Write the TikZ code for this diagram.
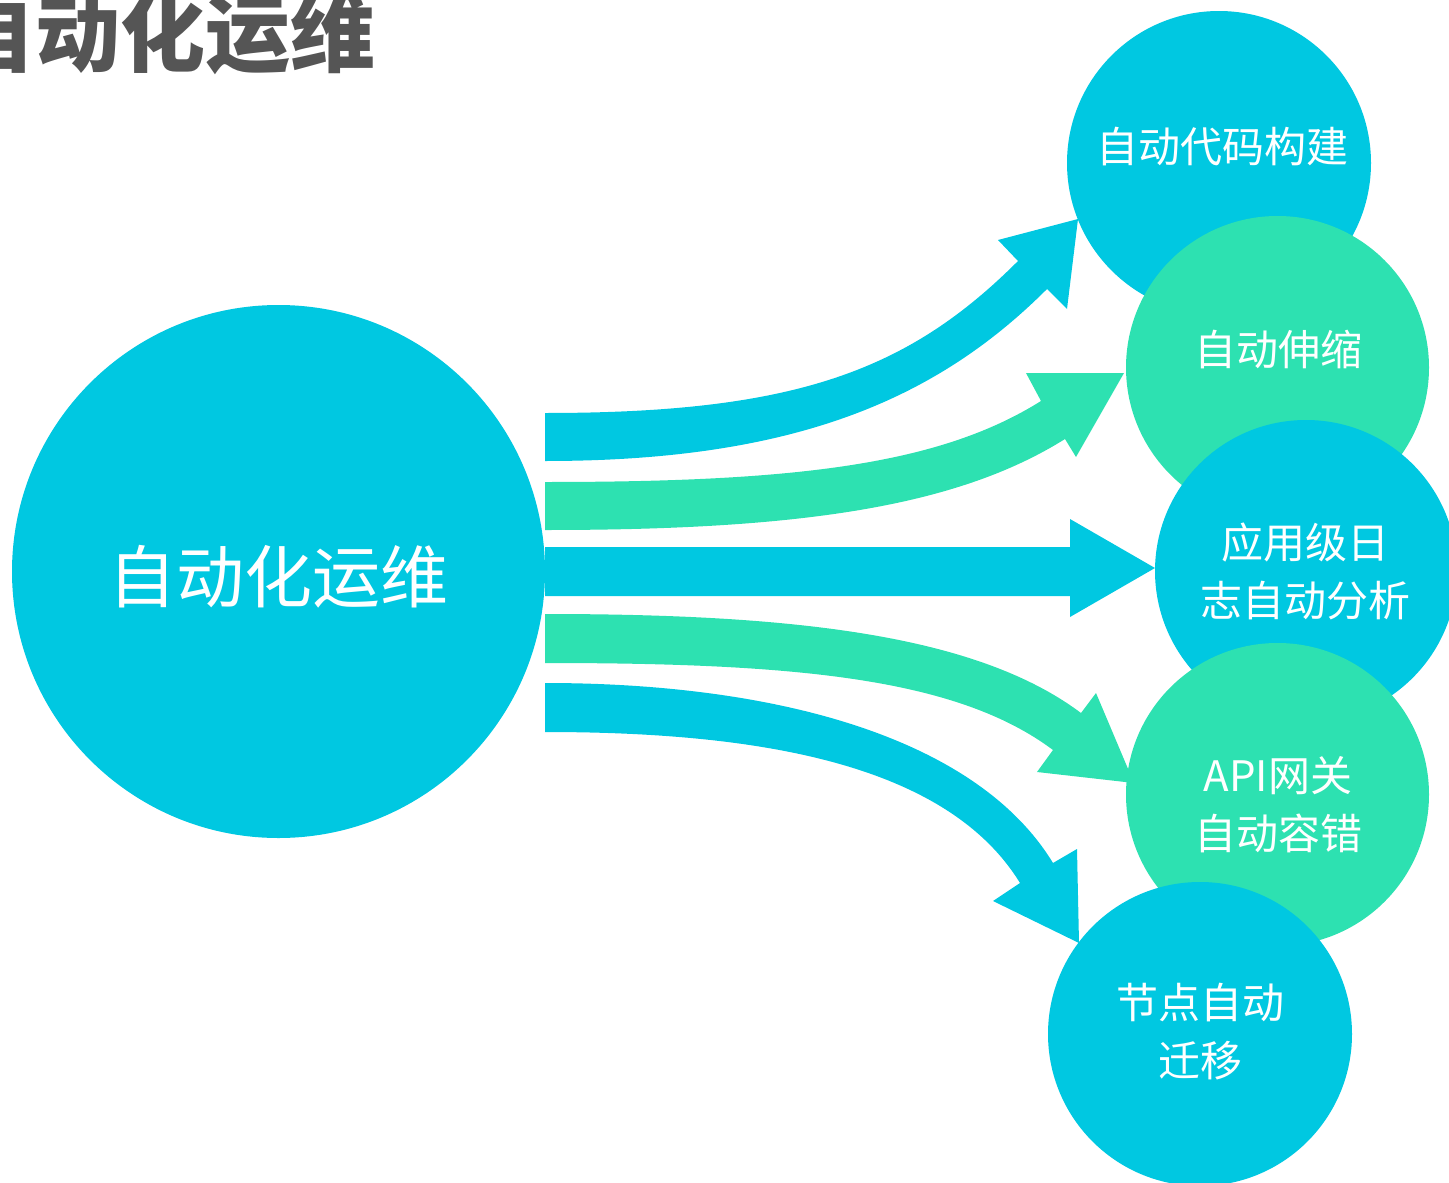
\documentclass[tikz,border=0pt]{standalone}
\usepackage{fontspec}
\setmainfont{Noto Sans CJK SC}
\definecolor{cy}{RGB}{0,200,225}
\definecolor{gr}{RGB}{45,225,177}
\definecolor{tg}{RGB}{85,85,85}
\begin{document}
\begin{tikzpicture}[x=1pt,y=-1pt,
  ball/.style={circle,inner sep=0pt,draw=none},
  lbl/.style={text=white,align=center,inner sep=0pt,font=\fontsize{42}{58}\selectfont},
  arrowband/.style={draw=none}]
\clip (0,0) rectangle (1449,1183);
% title
\node[anchor=base east,inner sep=0pt,text=tg,font=\fontsize{85}{85}\selectfont\bfseries] (title) at (376,65) {自动化运维};
% big circle
\node[ball,fill=cy,minimum size=533pt] (hub) at (278.5,571.5) {};
\node[text=white,inner sep=0pt,font=\fontsize{68}{68}\selectfont] (hubtxt) at (278.5,577) {自动化运维};
% arrows
\fill[cy,arrowband] (545,413) .. controls (795,413) and (908,371) .. (1018,261) -- (998,240) -- (1078,219) -- (1067,309) -- (1047,289) .. controls (937,399) and (795,461) .. (545,461) -- cycle;
\fill[gr,arrowband] (545,482) .. controls (795,482) and (939,465) .. (1041,401) -- (1026,373) -- (1124,373) -- (1076,457) -- (1065,439) .. controls (955,508) and (795,530) .. (545,530) -- cycle;
\fill[cy,arrowband] (545,547) -- (1070,547) -- (1070,519) -- (1155,568) -- (1070,617) -- (1070,596) -- (545,596) -- cycle;
\fill[gr,arrowband] (545,614) .. controls (795,614) and (977,635) .. (1081,713) -- (1096,693) -- (1134,783) -- (1037,772) -- (1053,750) .. controls (957,678) and (795,663) .. (545,663) -- cycle;
\fill[cy,arrowband] (545,683) .. controls (770,683) and (975,735) .. (1053,863) -- (1077,849) -- (1079,943) -- (993,901) -- (1020,883) .. controls (947,764) and (760,732) .. (545,732) -- cycle;
% right circles
\node[ball,fill=cy,minimum size=304pt] (c1) at (1219,163) {};
\node[lbl] (t1) at (1222,147) {自动代码构建};
\node[ball,fill=gr,minimum size=303pt] (c2) at (1277.5,367.5) {};
\node[lbl] (t2) at (1278,349) {自动伸缩};
\node[ball,fill=cy,minimum size=302pt] (c3) at (1306,571) {};
\node[lbl] (t3) at (1305,571.5) {应用级日\\志自动分析};
\node[ball,fill=gr,minimum size=303pt] (c4) at (1277.5,794.5) {};
\node[lbl] (t4) at (1278,804.5) {API网关\\自动容错};
\node[ball,fill=cy,minimum size=304pt] (c5) at (1200,1034) {};
\node[lbl] (t5) at (1200,1032) {节点自动\\迁移};
\end{tikzpicture}
\end{document}
